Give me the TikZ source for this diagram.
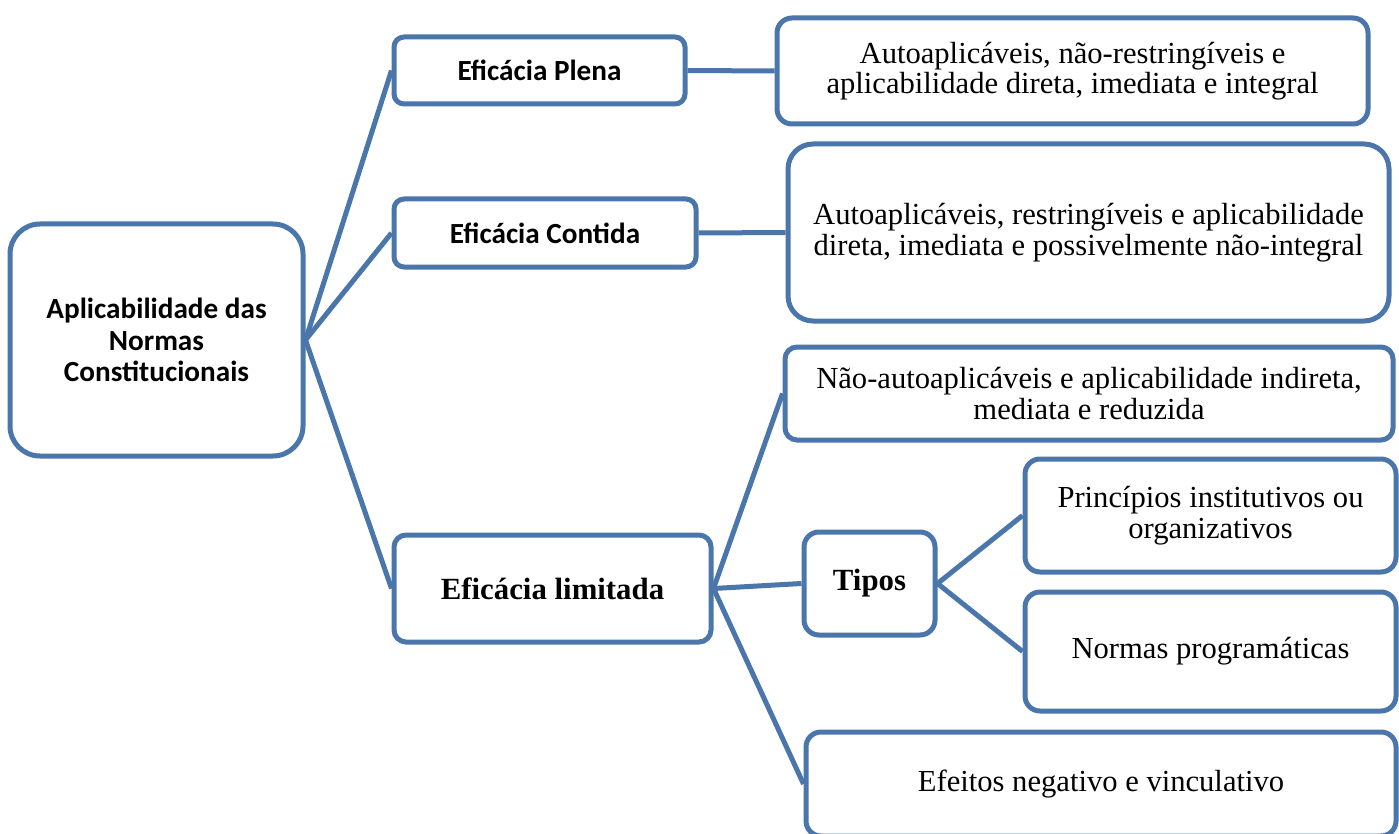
\documentclass[tikz,border=0pt]{standalone}
\usepackage{fontspec}
\setmainfont{Liberation Serif}
\setsansfont{Carlito}
\usetikzlibrary{positioning}
\definecolor{boxblue}{RGB}{74,118,172}
\tikzset{
  box/.style={draw=boxblue, line width=5pt, fill=white, rounded corners=#1,
    align=center, inner sep=0pt},
  box/.default=12pt,
  link/.style={draw=boxblue, line width=5pt},
  sanstxt/.style={font=\sffamily\bfseries\fontsize{29.2}{31.5}\selectfont},
  seriftxt/.style={font=\fontsize{30.6}{30.5}\selectfont},
  boldtxt/.style={font=\bfseries\fontsize{30.8}{31}\selectfont}
}

\begin{document}
\begin{tikzpicture}[x=1pt, y=-1pt]
  \useasboundingbox (0,0) rectangle (1399,834);
  % nivel 1
  \node[box=30pt, sanstxt, minimum width=293pt, minimum height=232pt] (raiz) at (156.5,340)
    {Aplicabilidade das\\Normas\\Constitucionais};
  % nivel 2
  \node[box=10pt, sanstxt, minimum width=291pt, minimum height=67pt] (plena) at (539.5,70.5) {Eficácia Plena};
  \node[box=10pt, sanstxt, minimum width=302pt, minimum height=68pt] (contida) at (545,233) {Eficácia Contida};
  \node[box, boldtxt, minimum width=317pt, minimum height=107pt] (limitada) at (552.5,588.5) {Eficácia limitada};
  % descricoes
  \node[box=15pt, seriftxt, minimum width=591pt, minimum height=106pt] (descplena) at (1072.5,71)
    {Autoaplicáveis, não-restringíveis e\\aplicabilidade direta, imediata e integral};
  \node[box=25pt, seriftxt, minimum width=601pt, minimum height=177pt] (desccontida) at (1088.5,232.5)
    {Autoaplicáveis, restringíveis e aplicabilidade\\direta, imediata e possivelmente não-integral};
  \node[box, seriftxt, minimum width=608pt, minimum height=93pt] (desclimitada) at (1089,393.5)
    {Não-autoaplicáveis e aplicabilidade indireta,\\mediata e reduzida};
  \node[box=15pt, boldtxt, minimum width=131pt, minimum height=103pt] (tipos) at (869.5,583.5) {Tipos};
  \node[box=15pt, seriftxt, minimum width=371pt, minimum height=113pt] (principios) at (1210.5,515.5)
    {Princípios institutivos ou\\organizativos};
  \node[box=15pt, seriftxt, minimum width=371pt, minimum height=119pt] (programaticas) at (1210.5,651.5)
    {Normas programáticas};
  \node[box=15pt, seriftxt, minimum width=590pt, minimum height=104pt] (efeitos) at (1101,784)
    {Efeitos negativo e vinculativo};
  % ligacoes
  \draw[link] (raiz.east) -- (plena.west);
  \draw[link] (raiz.east) -- (contida.west);
  \draw[link] (raiz.east) -- (limitada.west);
  \draw[link] (plena.east) -- (descplena.west);
  \draw[link] (contida.east) -- (desccontida.west);
  \draw[link] (limitada.east) -- (desclimitada.west);
  \draw[link] (limitada.east) -- (tipos.west);
  \draw[link] (limitada.east) -- (efeitos.west);
  \draw[link] (tipos.east) -- (principios.west);
  \draw[link] (tipos.east) -- (programaticas.west);
\end{tikzpicture}
\end{document}
